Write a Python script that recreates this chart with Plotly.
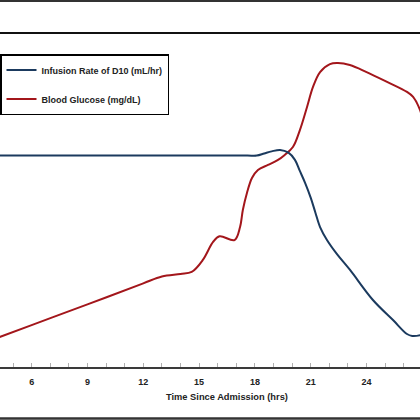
import plotly.graph_objects as go

# Time since admission (hrs)
infusion_time = [3, 6, 9, 12, 15, 17.6, 18.1, 18.5, 18.9, 19.35, 19.8, 20.15, 20.4, 20.7, 21.0, 21.25, 21.5, 21.87, 22.41, 23.11, 24.34, 25.42, 26.17, 26.45, 26.9, 27.5]
# Infusion Rate of D10 (mL/hr)
infusion_rate = [10, 10, 10, 10, 10, 10, 10.0, 10.1, 10.2, 10.27, 10.14, 9.8, 9.3, 8.7, 8.0, 7.3, 6.62, 6.01, 5.34, 4.59, 3.17, 2.22, 1.56, 1.47, 1.51, 1.7]

glucose_time = [3, 6, 9, 12, 13, 14, 14.6, 15.2, 15.75, 16.1, 16.9, 17.2, 17.35, 17.57, 17.84, 18.16, 18.7, 19.24, 19.6, 20.04, 20.42, 20.8, 21.12, 21.5, 22.03, 22.46, 23.1, 24.0, 25.1, 26.17, 26.5, 26.87, 27.2]
# Blood Glucose (mg/dL)
glucose = [12.6, 25.1, 37.5, 50.1, 54.2, 55.7, 56.9, 64.1, 74.9, 78.3, 76.0, 83.8, 94, 104.2, 113.2, 118, 121, 124, 127, 131.7, 142, 155.7, 167.7, 176.6, 181.4, 182, 180.8, 176.6, 170.7, 164.7, 161.7, 153.9, 140]

x_ticks = [3, 6, 9, 12, 15, 18, 21, 24, 27, 30]

BLUE = "#1B3A5E"
RED = "#A3161B"
FONT = "Liberation Sans"

fig = go.Figure()
fig.add_trace(go.Scatter(
    x=infusion_time, y=infusion_rate, mode="lines", name="Infusion Rate of D10 (mL/hr)",
    line=dict(color=BLUE, width=2, shape="spline", smoothing=1.0),
    yaxis="y2", legendgroup="a",
))
fig.add_trace(go.Scatter(
    x=glucose_time, y=glucose, mode="lines", name="Blood Glucose (mg/dL)",
    line=dict(color=RED, width=2, shape="spline", smoothing=1.0),
    legendgroup="b",
))

fig.update_layout(
    width=420, height=420,
    margin=dict(l=0, r=0, t=33, b=53),
    paper_bgcolor="white", plot_bgcolor="white",
    font=dict(family=FONT, color="#222222"),
    xaxis=dict(
        range=[4.30, 26.87], tickmode="array", tickvals=x_ticks,
        ticktext=[str(v) for v in x_ticks],
        showgrid=False, zeroline=False,
        showline=True, linecolor="#3a3a3a", linewidth=1.5,
        ticks="inside", ticklen=4, tickcolor="#b0b0b0", tickwidth=1,
        minor=dict(dtick=1, tick0=0, ticks="inside", ticklen=4, tickcolor="#b0b0b0", showgrid=False),
        tickfont=dict(family=FONT, size=9, color="#222222", weight="bold"),
        ticklabelstandoff=5, ticklabeloverflow="allow",
    ),
    yaxis=dict(range=[0, 200], visible=False, showgrid=False, zeroline=False),
    yaxis2=dict(range=[0, 15.8], visible=False, overlaying="y", showgrid=False, zeroline=False),
    showlegend=True,
    legend=dict(
        x=0.0, xanchor="left", y=0.937, yanchor="top",
        bgcolor="white", bordercolor="#000000", borderwidth=1.5,
        font=dict(family=FONT, size=9, color="#222222", weight="bold"),
        traceorder="grouped", tracegroupgap=10, itemwidth=30,
    ),
    annotations=[dict(
        text="Time Since Admission (hrs)", xref="paper", yref="paper",
        x=227 / 420, y=-0.0898, xanchor="center", yanchor="middle", showarrow=False,
        font=dict(family=FONT, size=9.3, color="#222222", weight="bold"),
    )],
    shapes=[
        dict(type="line", xref="paper", yref="paper", x0=0, x1=1, y0=1, y1=1,
             line=dict(color="#111111", width=2)),
        dict(type="line", xref="paper", yref="paper", x0=0, x1=1, y0=1.0955, y1=1.0955,
             line=dict(color="#333333", width=2)),
        dict(type="line", xref="paper", yref="paper", x0=0, x1=1, y0=-0.154, y1=-0.154,
             line=dict(color="#333333", width=2.5)),
    ],
)

fig.write_html(
    "out.html",
    config={"displayModeBar": False},
    post_script="document.body.style.margin='0';document.body.style.overflow='hidden';",
)
